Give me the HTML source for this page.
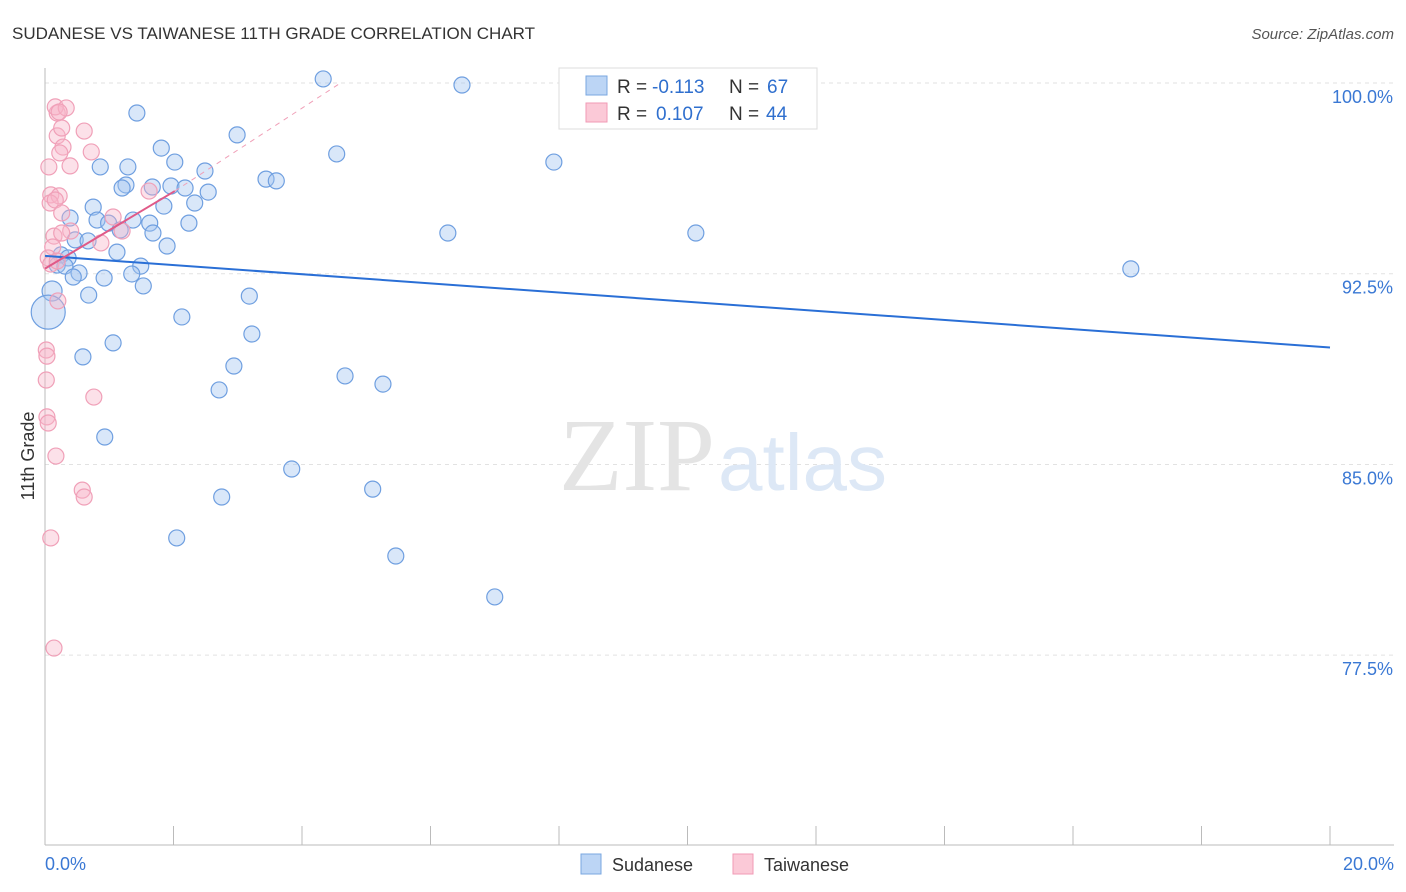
<!DOCTYPE html>
<html><head><meta charset="utf-8"><style>
body{margin:0;background:#fff;font-family:"Liberation Sans",sans-serif}
svg{display:block}
</style></head><body>
<svg width="1406" height="892">
<text x="12" y="39" font-size="17" fill="#333">SUDANESE VS TAIWANESE 11TH GRADE CORRELATION CHART</text>
<text x="1394" y="39" font-size="15" fill="#555" font-style="italic" text-anchor="end">Source: ZipAtlas.com</text>
<g id="grid"></g>
<g id="axes"></g>
<text x="715" y="490" font-size="104" fill="#e4e4e4" font-family="Liberation Serif,serif" text-anchor="end">ZIP</text>
<text x="718" y="490" font-size="80" fill="#dde8f6">atlas</text>
<g id="pts"></g>
<g id="lines"></g>
<text transform="translate(34,456) rotate(-90)" font-size="18" fill="#333" text-anchor="middle">11th Grade</text>
<g>
<rect x="559" y="68" width="258" height="61" fill="#fff" stroke="#ddd"/>
<rect x="586" y="76" width="21" height="19" fill="#bcd5f5" stroke="#7aa7e0"/>
<rect x="586" y="103" width="21" height="19" fill="#fbc9d7" stroke="#f09ab5"/>
<text x="617" y="93" font-size="19" fill="#333">R =</text>
<text x="652" y="93" font-size="19" fill="#2f6fce">-0.113</text>
<text x="729" y="93" font-size="19" fill="#333">N =</text>
<text x="767" y="93" font-size="19" fill="#2f6fce">67</text>
<text x="617" y="120" font-size="19" fill="#333">R =</text>
<text x="656" y="120" font-size="19" fill="#2f6fce">0.107</text>
<text x="729" y="120" font-size="19" fill="#333">N =</text>
<text x="766" y="120" font-size="19" fill="#2f6fce">44</text>
</g>
<g>
<rect x="581" y="854" width="20" height="20" fill="#bcd5f5" stroke="#7aa7e0"/>
<text x="612" y="871" font-size="18" fill="#333">Sudanese</text>
<rect x="733" y="854" width="20" height="20" fill="#fbc9d7" stroke="#f09ab5"/>
<text x="764" y="871" font-size="18" fill="#333">Taiwanese</text>
</g>
</svg>
<script>
const yTicks=[100,92.5,85,77.5];
const yTickLabels=["100.0%","92.5%","85.0%","77.5%"];
const xTicks=[0,2,4,6,8,10,12,14,16,18,20];
const blueX=[4.33,6.49,1.43,2.99,1.81,4.54,7.92,2.02,1.29,0.86,2.49,3.44,3.60,1.26,1.20,1.67,1.96,2.18,2.54,2.33,1.85,0.75,0.39,0.81,0.99,1.37,1.63,2.24,1.17,1.68,6.27,10.13,0.47,0.67,1.90,1.12,0.25,0.36,0.19,0.31,1.49,0.53,1.35,0.92,0.44,16.90,1.53,0.11,0.68,3.18,0.05,2.13,3.22,1.06,0.59,2.94,4.67,5.26,2.71,0.93,3.84,5.10,2.75,2.05,5.46,7.00];
const blueY=[100.16,99.92,98.82,97.96,97.44,97.21,96.89,96.89,96.70,96.70,96.54,96.22,96.15,95.99,95.87,95.91,95.95,95.87,95.71,95.28,95.16,95.12,94.69,94.61,94.49,94.61,94.49,94.49,94.22,94.10,94.10,94.10,93.83,93.79,93.59,93.35,93.24,93.12,92.84,92.80,92.80,92.53,92.49,92.33,92.37,92.69,92.02,91.82,91.66,91.62,90.99,90.80,90.13,89.78,89.23,88.87,88.48,88.16,87.93,86.08,84.82,84.03,83.72,82.11,81.40,79.79];
const blueSize=[8,8,8,8,8,8,8,8,8,8,8,8,8,8,8,8,8,8,8,8,8,8,8,8,8,8,8,8,8,8,8,8,8,8,8,8,8,8,8,8,8,8,8,8,8,8,8,10,8,8,17,8,8,8,8,8,8,8,8,8,8,8,8,8,8,8];
const pinkX=[0.19,0.16,0.33,0.22,0.61,0.19,0.26,0.28,0.23,0.72,0.39,0.06,0.09,0.22,0.08,0.16,1.62,0.26,1.06,1.20,0.40,0.14,0.26,0.87,0.12,0.05,0.09,0.19,0.20,0.02,0.03,0.02,0.76,0.03,0.05,0.17,0.58,0.61,0.09,0.14];
const pinkY=[98.82,99.06,99.02,98.86,98.11,97.92,98.23,97.48,97.25,97.29,96.74,96.70,95.60,95.56,95.28,95.40,95.75,94.89,94.73,94.18,94.18,93.98,94.10,93.71,93.55,93.12,92.88,93.00,91.43,89.50,89.26,88.32,87.65,86.87,86.63,85.33,83.99,83.72,82.11,77.78];
const blueLine=[[0,93.2],[20,89.6]];
const pinkLine=[[0,92.7],[2.02,95.75]];
const pinkDash=[[2.02,95.75],[4.6,100.0]];
const X=v=>45+v*64.25, Y=v=>83+(100-v)*25.43;
const NS="http://www.w3.org/2000/svg";
function mk(t,a,p){const e=document.createElementNS(NS,t);for(const k in a)e.setAttribute(k,a[k]);document.getElementById(p).appendChild(e);return e;}
yTicks.forEach((v,i)=>{
 const l=mk('line',{x1:45,x2:1394,y1:Y(v),y2:Y(v),stroke:'#e2e2e2','stroke-dasharray':'4,4'},'grid');
 
 
 const t=mk('text',{x:1393,y:Y(v)+20,'font-size':18,fill:'#3a78d4','text-anchor':'end'},'grid');
 t.textContent=yTickLabels[i];
 
 
});
const ax=mk('line',{x1:45,x2:45,y1:68,y2:845,stroke:'#bbb'},'axes');


const bx=mk('line',{x1:45,x2:1394,y1:845,y2:845,stroke:'#bbb'},'axes');


xTicks.forEach(v=>{
 const l=mk('line',{x1:X(v),x2:X(v),y1:826,y2:845,stroke:'#bbb'},'axes');
 
 
});
[[0,'0.0%','start',45],[20,'20.0%','end',1394]].forEach(d=>{
 const t=mk('text',{x:d[3],y:870,'font-size':18,fill:'#3a78d4','text-anchor':d[2]},'axes');
 t.textContent=d[1];
 
 
});
blueX.forEach((v,i)=>{
 const c=mk('circle',{cx:X(v),cy:Y(blueY[i]),r:blueSize[i],fill:'rgba(160,195,240,0.4)',stroke:'#6f9fe0','stroke-width':1.2},'pts');
 
 
});
pinkX.forEach((v,i)=>{
 const c=mk('circle',{cx:X(v),cy:Y(pinkY[i]),r:8,fill:'rgba(248,180,200,0.4)',stroke:'#f0a0b8','stroke-width':1.2},'pts');
 
 
});
const bl=mk('line',{x1:X(blueLine[0][0]),y1:Y(blueLine[0][1]),x2:X(blueLine[1][0]),y2:Y(blueLine[1][1]),stroke:'#2a6fd6','stroke-width':2},'lines');


const pl=mk('line',{x1:X(pinkLine[0][0]),y1:Y(pinkLine[0][1]),x2:X(pinkLine[1][0]),y2:Y(pinkLine[1][1]),stroke:'#e05a88','stroke-width':2},'lines');


const pd=mk('line',{x1:X(pinkDash[0][0]),y1:Y(pinkDash[0][1]),x2:X(pinkDash[1][0]),y2:Y(pinkDash[1][1]),stroke:'#f0a0b8','stroke-width':1,'stroke-dasharray':'5,5'},'lines');


</script>
</body></html>
